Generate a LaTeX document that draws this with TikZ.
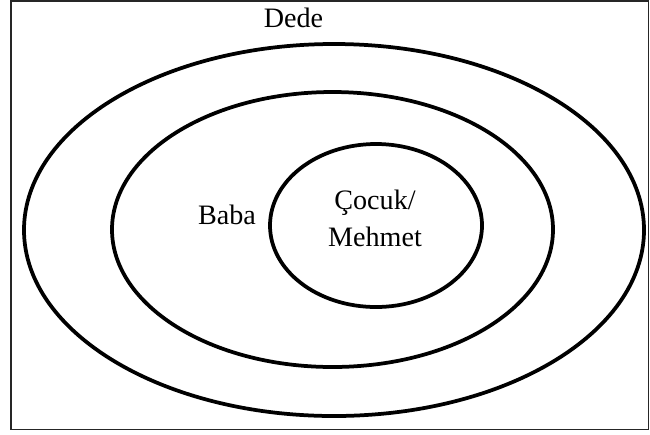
\documentclass[tikz,border=0pt]{standalone}
\usepackage{fontspec}
\setmainfont{Liberation Serif}
\usetikzlibrary{shapes.geometric,positioning}

\begin{document}
\begin{tikzpicture}[x=0.03cm,y=-0.03cm,
  ring/.style={ellipse,draw,line width=3.2pt,inner sep=0pt},
  lab/.style={font=\fontsize{24}{31.5}\selectfont,inner sep=0pt,align=center}]
\useasboundingbox (0,0) rectangle (650,434);
\draw[line width=1.6pt,black!85] (11,1) rectangle (648.5,429.5);
% nested circles
\node[ring,minimum width=620*0.03cm,minimum height=372*0.03cm] (dede) at (334,230) {};
\node[ring,minimum width=441*0.03cm,minimum height=275*0.03cm] (baba) at (332.5,229.5) {};
\node[ring,minimum width=212*0.03cm,minimum height=163*0.03cm] (cocuk) at (376,225.5) {};
% labels
\node[lab] (dedelab) at (293.5,18) {Dede};
\node[lab] (babalab) at (227,215) {Baba};
\node[lab] (cocuklab) at (375,218.5) {Çocuk/\\Mehmet};
\end{tikzpicture}
\end{document}
